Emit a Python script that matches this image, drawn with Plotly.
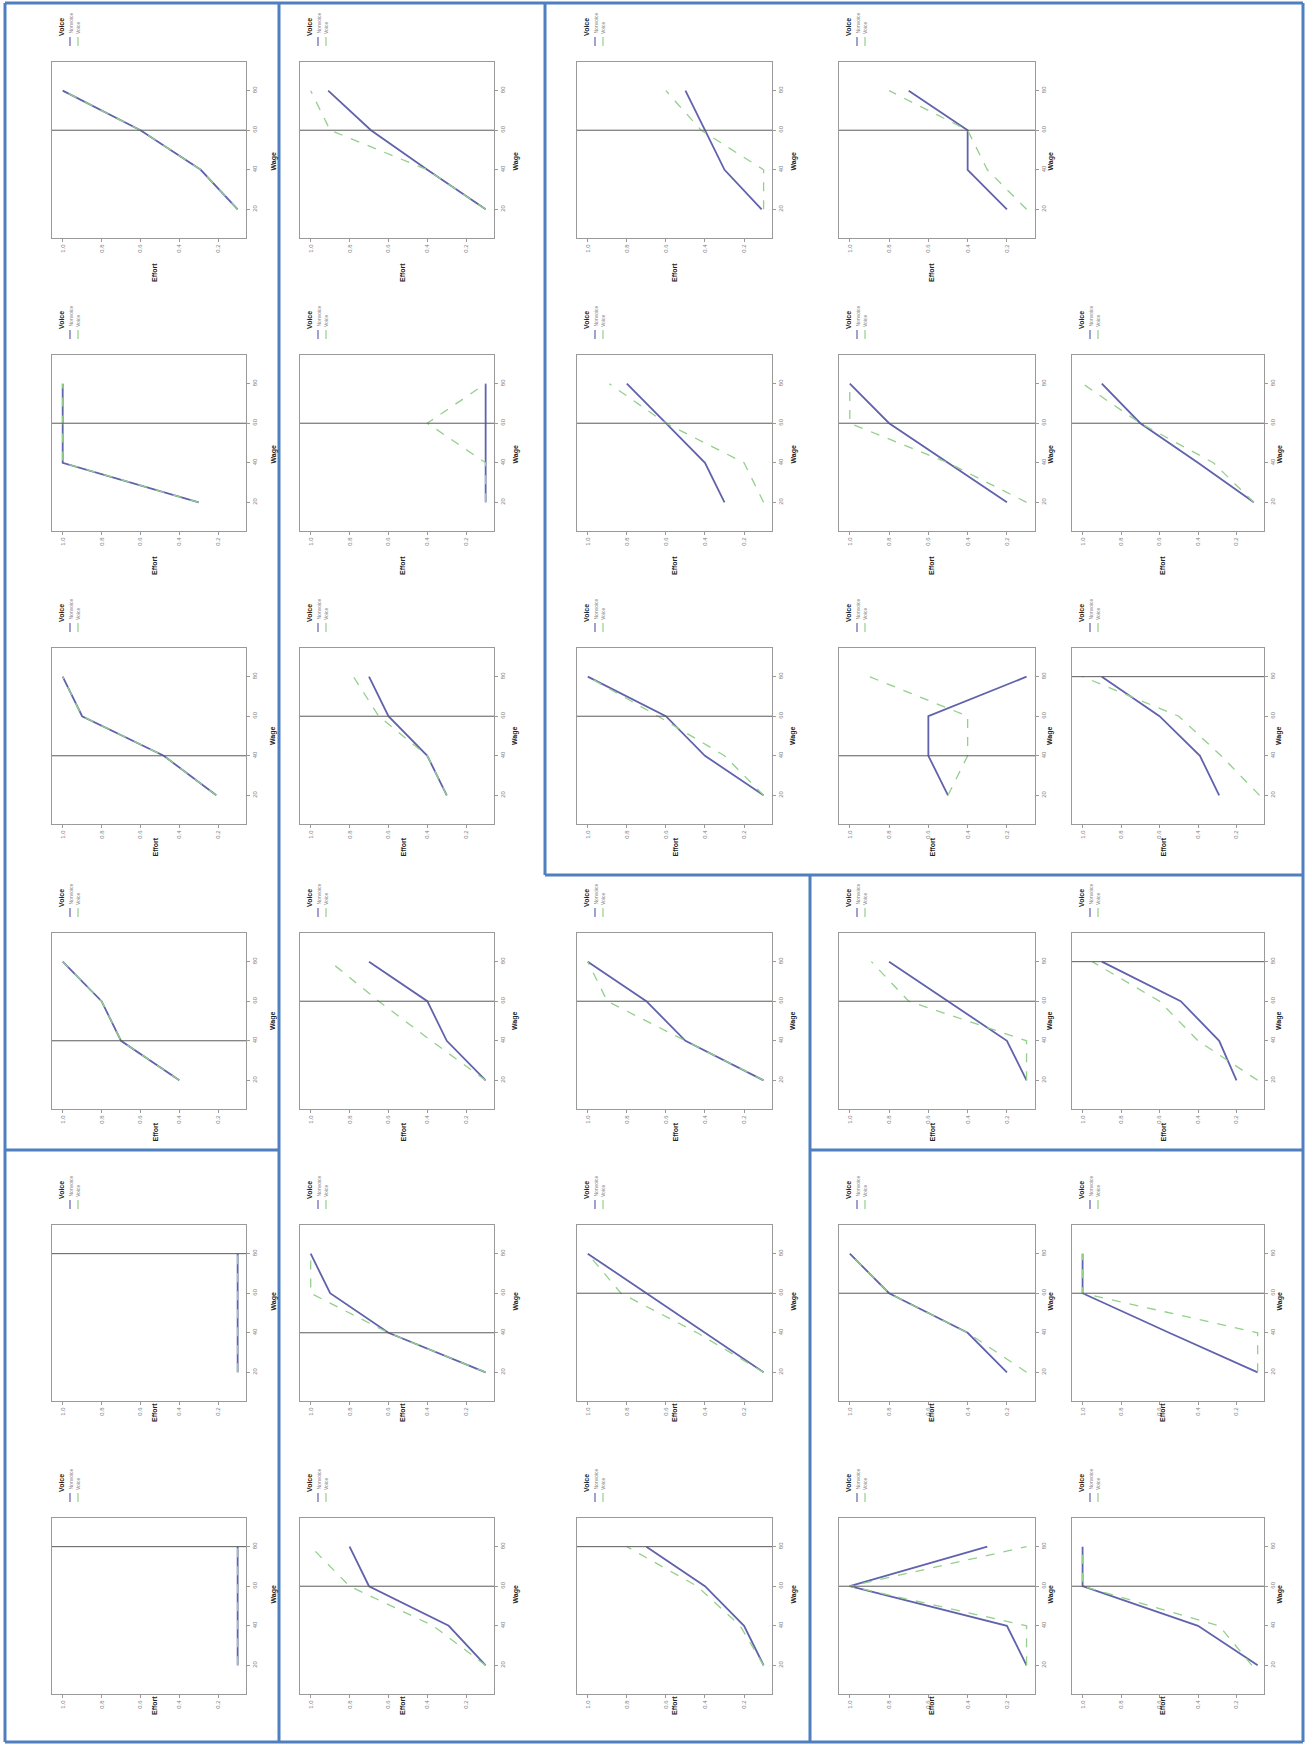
import plotly.graph_objects as go

W, H = 1306, 1746

wages = [20, 40, 60, 80]
effort_ticks = [0.2, 0.4, 0.6, 0.8, 1.0]
effort_labels = ["0.2", "0.4", "0.6", "0.8", "1.0"]
wage_ticks = [20, 40, 60, 80]
wage_labels = ["20", "40", "60", "80"]
series_names = ["Nonvoice", "Voice"]

# (row, col) of every panel, row-major; row 1 col 5 is empty
cells = [(1, 1), (1, 2), (1, 3), (1, 4),
         (2, 1), (2, 2), (2, 3), (2, 4), (2, 5),
         (3, 1), (3, 2), (3, 3), (3, 4), (3, 5),
         (4, 1), (4, 2), (4, 3), (4, 4), (4, 5),
         (5, 1), (5, 2), (5, 3), (5, 4), (5, 5),
         (6, 1), (6, 2), (6, 3), (6, 4), (6, 5)]

# effort at wages 20, 40, 60, 80
nonvoice = [
    [0.10, 0.29, 0.60, 1.00], [0.10, 0.40, 0.69, 0.91], [0.11, 0.30, 0.40, 0.50], [0.20, 0.40, 0.40, 0.70],
    [0.30, 1.00, 1.00, 1.00], [0.10, 0.10, 0.10, 0.10], [0.30, 0.40, 0.60, 0.80], [0.20, 0.50, 0.80, 1.00], [0.11, 0.40, 0.70, 0.90],
    [0.21, 0.48, 0.90, 1.00], [0.30, 0.40, 0.60, 0.70], [0.10, 0.40, 0.60, 1.00], [0.50, 0.60, 0.60, 0.10], [0.29, 0.39, 0.60, 0.90],
    [0.40, 0.70, 0.80, 1.00], [0.10, 0.30, 0.40, 0.70], [0.10, 0.50, 0.70, 1.00], [0.10, 0.20, 0.50, 0.80], [0.20, 0.29, 0.49, 0.90],
    [0.10, 0.10, 0.10, 0.10], [0.10, 0.60, 0.90, 1.00], [0.10, 0.40, 0.70, 1.00], [0.20, 0.40, 0.80, 1.00], [0.09, 0.55, 1.00, 1.00],
    [0.10, 0.10, 0.10, 0.10], [0.10, 0.29, 0.70, 0.80], [0.10, 0.20, 0.40, 0.70], [0.10, 0.20, 1.00, 0.30], [0.09, 0.40, 1.00, 1.00],
]
voice = [
    [0.10, 0.29, 0.60, 1.00], [0.10, 0.40, 0.90, 1.00], [0.10, 0.10, 0.42, 0.60], [0.10, 0.30, 0.40, 0.80],
    [0.30, 1.00, 1.00, 1.00], [0.10, 0.10, 0.40, 0.10], [0.10, 0.20, 0.60, 0.89], [0.10, 0.50, 1.00, 1.00], [0.11, 0.32, 0.70, 1.00],
    [0.21, 0.48, 0.90, 1.00], [0.30, 0.40, 0.65, 0.78], [0.10, 0.30, 0.64, 1.00], [0.50, 0.40, 0.40, 0.90], [0.08, 0.28, 0.50, 1.00],
    [0.40, 0.70, 0.80, 1.00], [0.10, 0.38, 0.65, 0.90], [0.10, 0.50, 0.90, 1.00], [0.10, 0.10, 0.70, 0.89], [0.09, 0.40, 0.60, 0.95],
    [0.10, 0.10, 0.10, 0.10], [0.10, 0.60, 1.00, 1.00], [0.10, 0.44, 0.83, 1.00], [0.10, 0.40, 0.80, 1.00], [0.09, 0.09, 1.00, 1.00],
    [0.10, 0.10, 0.10, 0.10], [0.10, 0.37, 0.80, 1.00], [0.10, 0.22, 0.44, 0.80], [0.10, 0.10, 1.00, 0.10], [0.12, 0.29, 1.00, 1.00],
]
ref_wage = [60, 60, 60, 60,
            60, 60, 60, 60, 60,
            40, 60, 60, 40, 80,
            40, 60, 60, 60, 80,
            80, 40, 60, 60, 60,
            80, 60, 80, 60, 60]

# panel boxes in pixels
col_left = {1: 52, 2: 300, 3: 577, 4: 839, 5: 1072}
col_width = {1: 194, 2: 194, 3: 195, 4: 196, 5: 192}
row_top = {1: 62, 2: 355, 3: 648, 4: 933, 5: 1225, 6: 1518}
box_h = 176

NV_COLOR = "#6062ac"
V_COLOR = "#93d08c"
AX_COLOR = "#9a9a9a"
FONT = "Liberation Sans, Arial, sans-serif"


def px(x):
    return x / W


def py(y):
    return 1 - y / H


fig = go.Figure()
shapes = []
annotations = []
layout = {}

for i, (r, c) in enumerate(cells):
    k = i + 1
    xa = "x" if k == 1 else f"x{k}"
    ya = "y" if k == 1 else f"y{k}"
    L = col_left[c]
    R = L + col_width[c]
    T = row_top[r]
    B = T + box_h

    fig.add_trace(go.Scatter(x=nonvoice[i], y=wages, mode="lines", xaxis=xa, yaxis=ya,
                             line=dict(color=NV_COLOR, width=1.8), showlegend=False,
                             name=series_names[0]))
    fig.add_trace(go.Scatter(x=voice[i], y=wages, mode="lines", xaxis=xa, yaxis=ya,
                             line=dict(color=V_COLOR, width=1.3, dash="dash"), showlegend=False,
                             name=series_names[1]))

    layout["xaxis" if k == 1 else f"xaxis{k}"] = dict(
        domain=[px(L), px(R)], range=[1.055, 0.057], anchor=ya,
        showgrid=False, zeroline=False, showline=True, linecolor=AX_COLOR, linewidth=1, mirror=True,
        ticks="outside", ticklen=3, tickcolor=AX_COLOR,
        tickvals=effort_ticks, ticktext=effort_labels, tickangle=-90,
        tickfont=dict(size=6, color="#808080", family=FONT), fixedrange=True)
    layout["yaxis" if k == 1 else f"yaxis{k}"] = dict(
        domain=[py(B), py(T)], range=[5.5, 94.5], anchor=xa, side="right",
        showgrid=False, zeroline=False, showline=True, linecolor=AX_COLOR, linewidth=1, mirror=True,
        ticks="outside", ticklen=3, tickcolor=AX_COLOR,
        tickvals=wage_ticks, ticktext=wage_labels, tickangle=-90,
        tickfont=dict(size=6, color="#808080", family=FONT), fixedrange=True)

    # reference wage line
    shapes.append(dict(type="line", xref=f"{xa} domain", x0=0, x1=1, yref=ya,
                       y0=ref_wage[i], y1=ref_wage[i], line=dict(color="#5a5a5a", width=1)))

    # axis titles (rotated with the plot)
    annotations.append(dict(x=px((L + R) / 2), y=py(B + 23), xref="paper", yref="paper",
                            text="<b>Effort</b>", textangle=-90, showarrow=False,
                            font=dict(size=7, color="#222222", family=FONT)))
    annotations.append(dict(x=px(R + 21), y=py((T + B) / 2), xref="paper", yref="paper",
                            text="<b>Wage</b>", textangle=-90, showarrow=False,
                            font=dict(size=7, color="#222222", family=FONT)))

    # legend above the box
    annotations.append(dict(x=px(L + 9), y=py(T - 24), xref="paper", yref="paper",
                            xanchor="center", yanchor="bottom",
                            text="<b>Voice</b>", textangle=-90, showarrow=False,
                            font=dict(size=7, color="#222222", family=FONT)))
    for j, (name, col, dash) in enumerate([(series_names[0], NV_COLOR, "solid"),
                                           (series_names[1], V_COLOR, "dash")]):
        lx = L + 18 + 8 * j
        shapes.append(dict(type="line", xref="paper", yref="paper", x0=px(lx), x1=px(lx),
                           y0=py(T - 16), y1=py(T - 25), line=dict(color=col, width=1.2, dash=dash)))
        annotations.append(dict(x=px(lx), y=py(T - 26), xref="paper", yref="paper",
                                xanchor="center", yanchor="bottom",
                                text=name, textangle=-90, showarrow=False,
                                font=dict(size=5, color="#808080", family=FONT)))

# blue grouping frames
BLUE = "#4f7fbf"
frame = [
    (5, 3, 1303, 3), (5, 1742, 1303, 1742), (5, 3, 5, 1742), (1303, 3, 1303, 1742),
    (279, 3, 279, 1742), (5, 1150, 279, 1150),
    (545, 3, 545, 875), (545, 875, 1303, 875),
    (810, 875, 810, 1742), (810, 1150, 1303, 1150),
]
for x0, y0, x1, y1 in frame:
    shapes.append(dict(type="line", xref="paper", yref="paper", x0=px(x0), y0=py(y0),
                       x1=px(x1), y1=py(y1), line=dict(color=BLUE, width=3)))

fig.update_layout(
    width=W, height=H, autosize=False,
    margin=dict(l=0, r=0, t=0, b=0),
    paper_bgcolor="white", plot_bgcolor="white",
    showlegend=False, shapes=shapes, annotations=annotations,
    **layout,
)

fig.write_html("out.html", config={"displayModeBar": False},
               post_script="document.body.style.margin='0';")
